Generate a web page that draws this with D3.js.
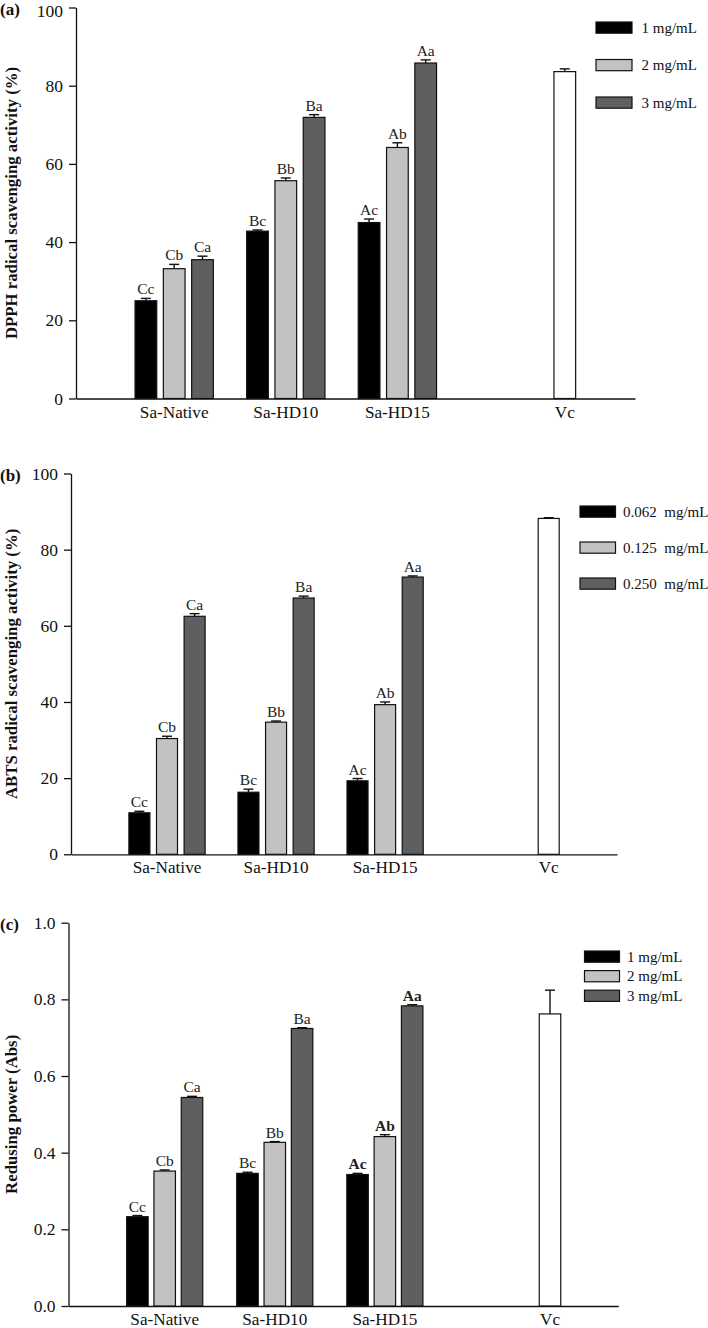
<!DOCTYPE html>
<html><head><meta charset="utf-8">
<script src="https://cdn.jsdelivr.net/npm/d3@7"></script>
<style>
body{margin:0;background:#fff;}
svg{display:block;font-family:"Liberation Serif","Times New Roman",serif;}
</style></head>
<body><svg id="chart" width="708" height="1328"></svg>
<script>
// ---------- DATA ----------
const categories = ["Sa-Native", "Sa-HD10", "Sa-HD15"];
const controlLabel = "Vc";

const dpphSeries = ["1 mg/mL", "2 mg/mL", "3 mg/mL"];
const dpphValues = [[25.0, 33.2, 35.5], [42.8, 55.7, 71.9], [45.0, 64.2, 85.8]];
const dpphErrors = [[0.6, 1.1, 0.9], [0.3, 0.7, 0.7], [0.9, 1.2, 0.8]];
const dpphLetters = [["Cc", "Cb", "Ca"], ["Bc", "Bb", "Ba"], ["Ac", "Ab", "Aa"]];
const dpphVc = 83.6, dpphVcErr = 0.7;
const dpphTicks = [0, 20, 40, 60, 80, 100];

const abtsSeries = ["0.062  mg/mL", "0.125  mg/mL", "0.250  mg/mL"];
const abtsValues = [[10.9, 30.4, 62.5], [16.3, 34.7, 67.3], [19.3, 39.3, 72.8]];
const abtsErrors = [[0.4, 0.6, 0.7], [0.8, 0.3, 0.5], [0.6, 0.7, 0.3]];
const abtsLetters = [["Cc", "Cb", "Ca"], ["Bc", "Bb", "Ba"], ["Ac", "Ab", "Aa"]];
const abtsVc = 88.2, abtsVcErr = 0.2;
const abtsTicks = [0, 20, 40, 60, 80, 100];

const redSeries = ["1 mg/mL", "2 mg/mL", "3 mg/mL"];
const redValues = [[0.233, 0.352, 0.544], [0.346, 0.427, 0.724], [0.343, 0.442, 0.783]];
const redErrors = [[0.003, 0.003, 0.003], [0.003, 0.002, 0.002], [0.003, 0.005, 0.003]];
const redLetters = [["Cc", "Cb", "Ca"], ["Bc", "Bb", "Ba"], ["Ac", "Ab", "Aa"]];
const redVc = 0.762, redVcErr = 0.062;
const redTicks = [0.0, 0.2, 0.4, 0.6, 0.8, 1.0];

const seriesColors = ["#000000", "#c2c2c2", "#5f5f5f"];

// ---------- PANELS ----------
const panels = [
  { tag: "(a)", title: "DPPH radical scavenging activity (%)", series: dpphSeries, values: dpphValues,
    errors: dpphErrors, letters: dpphLetters, vc: dpphVc, vcErr: dpphVcErr, ticks: dpphTicks, fmt: d3.format("d"),
    ymax: 100, boldLetters: [false, false, false],
    L: { axisX: 76, right: 635, top: 7.5, bottom: 398.5, c1: 174.2, c4: 564.8, step: 28.3, barW: 21.7,
         legX: 596, legY: 22, legDy: 37.5, legW: 36, legH: 11.2, legTx: 641.5 } },
  { tag: "(b)", title: "ABTS radical scavenging activity (%)", series: abtsSeries, values: abtsValues,
    errors: abtsErrors, letters: abtsLetters, vc: abtsVc, vcErr: abtsVcErr, ticks: abtsTicks, fmt: d3.format("d"),
    ymax: 100, boldLetters: [false, false, false],
    L: { axisX: 71, right: 617, top: 473.5, bottom: 854.3, c1: 167, c4: 548.7, step: 27.6, barW: 21,
         legX: 580, legY: 506, legDy: 36, legW: 35.5, legH: 11.2, legTx: 623 } },
  { tag: "(c)", title: "Redusing power (Abs)", series: redSeries, values: redValues,
    errors: redErrors, letters: redLetters, vc: redVc, vcErr: redVcErr, ticks: redTicks, fmt: d3.format(".1f"),
    ymax: 1.0, boldLetters: [false, false, true],
    L: { axisX: 68.5, right: 618.3, top: 922.7, bottom: 1306, c1: 164.7, c4: 550, step: 27.3, barW: 21.5,
         legX: 584.5, legY: 951, legDy: 19.6, legW: 35, legH: 11.2, legTx: 627 } }
];

const svg = d3.select("#chart");
svg.append("rect").attr("width", 708).attr("height", 1328).attr("fill", "#fff");

panels.forEach((p, pi) => {
  const L = p.L;
  const g = svg.append("g");
  const y = d3.scaleLinear().domain([0, p.ymax]).range([L.bottom, L.top]);
  const x = d3.scaleLinear().domain([1, 4.5]).range([L.c1, L.c4]);

  // y axis
  const yAxis = d3.axisLeft(y).tickValues(p.ticks).tickFormat(p.fmt).tickSizeInner(7).tickSizeOuter(0).tickPadding(6);
  const ya = g.append("g").attr("transform", `translate(${L.axisX},0)`).call(yAxis);
  ya.selectAll("path,line").attr("stroke", "#111").attr("stroke-width", 1.3);
  ya.selectAll("text").attr("font-size", "17.5px").attr("fill", "#111").attr("font-family", "Liberation Serif");
  if (pi === 0) {
    ya.selectAll(".tick").filter(d => d === p.ymax).select("text").attr("dy", "0.5em");
  }

  // x axis (no ticks)
  const xa = d3.scaleLinear().domain([x.invert(L.axisX), x.invert(L.right)]).range([L.axisX, L.right]);
  const xAxisG = g.append("g").attr("transform", `translate(0,${L.bottom})`)
    .call(d3.axisBottom(xa).tickValues([]).tickSizeOuter(0));
  xAxisG.selectAll("path").attr("stroke", "#111").attr("stroke-width", 1.3);

  // category labels
  const catPos = [1, 2, 3, 4.5];
  const catNames = categories.concat([controlLabel]);
  g.selectAll(".cat").data(catNames).enter().append("text")
    .attr("x", (d, i) => x(catPos[i])).attr("y", L.bottom + 19)
    .attr("text-anchor", "middle").attr("font-size", "17.2px").attr("fill", "#111").text(d => d);

  // bars
  const barData = [];
  categories.forEach((c, ci) => {
    p.series.forEach((s, si) => {
      barData.push({ cx: x(ci + 1) + (si - 1) * L.step, v: p.values[ci][si], e: p.errors[ci][si],
                     fill: seriesColors[si], lab: p.letters[ci][si], bold: p.boldLetters[ci] });
    });
  });
  barData.push({ cx: x(4.5), v: p.vc, e: p.vcErr, fill: "#ffffff", lab: null });

  // error bars (up only)
  const eg = g.append("g");
  barData.forEach(d => {
    eg.append("line").attr("x1", d.cx).attr("x2", d.cx).attr("y1", y(d.v)).attr("y2", y(d.v + d.e))
      .attr("stroke", "#111").attr("stroke-width", 1.4);
    eg.append("line").attr("x1", d.cx - 5).attr("x2", d.cx + 5).attr("y1", y(d.v + d.e)).attr("y2", y(d.v + d.e))
      .attr("stroke", "#111").attr("stroke-width", 1.4);
  });

  g.selectAll(".bar").data(barData).enter().append("rect")
    .attr("x", d => d.cx - L.barW / 2).attr("width", L.barW)
    .attr("y", d => y(d.v)).attr("height", d => y(0) - y(d.v))
    .attr("fill", d => d.fill).attr("stroke", "#111").attr("stroke-width", 1.2);

  g.selectAll(".lab").data(barData.filter(d => d.lab)).enter().append("text")
    .attr("x", d => d.cx).attr("y", d => y(d.v + d.e) - 4)
    .attr("text-anchor", "middle").attr("font-size", "15.5px").attr("fill", "#222")
    .attr("font-weight", d => d.bold ? "bold" : "normal").text(d => d.lab);

  // panel tag
  g.append("text").attr("x", 0).attr("y", L.top + 7).attr("font-size", "17px").attr("font-weight", "bold")
    .attr("fill", "#111").text(p.tag);

  // y title
  g.append("text").attr("transform", `translate(17,${(L.top + L.bottom) / 2}) rotate(-90)`)
    .attr("text-anchor", "middle").attr("font-size", "16.8px").attr("font-weight", "bold").attr("fill", "#111")
    .text(p.title);

  // legend
  const lg = g.append("g");
  p.series.forEach((s, si) => {
    lg.append("rect").attr("x", L.legX).attr("y", L.legY + si * L.legDy).attr("width", L.legW).attr("height", L.legH)
      .attr("fill", seriesColors[si]).attr("stroke", "#111").attr("stroke-width", 1.2);
    lg.append("text").attr("x", L.legTx).attr("y", L.legY + si * L.legDy + L.legH / 2 + 5)
      .attr("font-size", "15px").attr("fill", "#111").attr("xml:space", "preserve").style("white-space", "pre").text(s);
  });
});
</script>
</body></html>
